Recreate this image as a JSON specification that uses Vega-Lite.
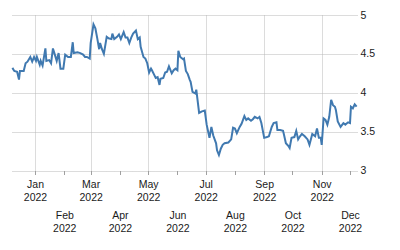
{
  "$schema": "https://vega.github.io/schema/vega-lite/v6.json",
  "autosize": "none",
  "width": 345,
  "height": 155.5,
  "padding": {"left": 12, "top": 15, "right": 43, "bottom": 79},
  "background": "white",
  "config": {
    "view": {"stroke": null},
    "axis": {
      "labelFont": "Liberation Sans",
      "labelFontSize": 10.5,
      "labelColor": "#1a1a1a",
      "domain": false,
      "gridColor": "#b8b8b8",
      "gridDash": [1, 1],
      "gridWidth": 1,
      "tickColor": "#a0a0a0",
      "tickSize": 4,
      "title": null
    }
  },
  "data": {
    "values": [
      {"date": "2021/12/08", "v": 4.32}, {"date": "2021/12/10", "v": 4.28}, {"date": "2021/12/13", "v": 4.27},
      {"date": "2021/12/15", "v": 4.17}, {"date": "2021/12/16", "v": 4.28}, {"date": "2021/12/20", "v": 4.28},
      {"date": "2021/12/22", "v": 4.38}, {"date": "2021/12/24", "v": 4.40}, {"date": "2021/12/27", "v": 4.46},
      {"date": "2021/12/29", "v": 4.40}, {"date": "2021/12/31", "v": 4.46}, {"date": "2022/01/02", "v": 4.41},
      {"date": "2022/01/03", "v": 4.46}, {"date": "2022/01/06", "v": 4.36}, {"date": "2022/01/07", "v": 4.41},
      {"date": "2022/01/09", "v": 4.35}, {"date": "2022/01/12", "v": 4.57}, {"date": "2022/01/13", "v": 4.41},
      {"date": "2022/01/16", "v": 4.42}, {"date": "2022/01/18", "v": 4.38}, {"date": "2022/01/20", "v": 4.57},
      {"date": "2022/01/22", "v": 4.49}, {"date": "2022/01/24", "v": 4.41}, {"date": "2022/01/26", "v": 4.51},
      {"date": "2022/01/28", "v": 4.31}, {"date": "2022/01/31", "v": 4.31}, {"date": "2022/02/02", "v": 4.49},
      {"date": "2022/02/05", "v": 4.46}, {"date": "2022/02/08", "v": 4.46}, {"date": "2022/02/10", "v": 4.65},
      {"date": "2022/02/11", "v": 4.51}, {"date": "2022/02/15", "v": 4.52}, {"date": "2022/02/18", "v": 4.51},
      {"date": "2022/02/21", "v": 4.49}, {"date": "2022/02/23", "v": 4.46}, {"date": "2022/02/25", "v": 4.46},
      {"date": "2022/02/28", "v": 4.44}, {"date": "2022/03/01", "v": 4.64}, {"date": "2022/03/04", "v": 4.88},
      {"date": "2022/03/06", "v": 4.83}, {"date": "2022/03/08", "v": 4.70}, {"date": "2022/03/10", "v": 4.56},
      {"date": "2022/03/11", "v": 4.64}, {"date": "2022/03/13", "v": 4.56}, {"date": "2022/03/15", "v": 4.50},
      {"date": "2022/03/18", "v": 4.72}, {"date": "2022/03/20", "v": 4.70}, {"date": "2022/03/23", "v": 4.69},
      {"date": "2022/03/24", "v": 4.76}, {"date": "2022/03/26", "v": 4.69}, {"date": "2022/03/29", "v": 4.72},
      {"date": "2022/03/31", "v": 4.75}, {"date": "2022/04/02", "v": 4.69}, {"date": "2022/04/05", "v": 4.78},
      {"date": "2022/04/07", "v": 4.71}, {"date": "2022/04/09", "v": 4.71}, {"date": "2022/04/11", "v": 4.64},
      {"date": "2022/04/13", "v": 4.71}, {"date": "2022/04/15", "v": 4.76}, {"date": "2022/04/18", "v": 4.80},
      {"date": "2022/04/20", "v": 4.69}, {"date": "2022/04/22", "v": 4.71}, {"date": "2022/04/23", "v": 4.59},
      {"date": "2022/04/26", "v": 4.46}, {"date": "2022/04/28", "v": 4.44}, {"date": "2022/04/30", "v": 4.38},
      {"date": "2022/05/02", "v": 4.26}, {"date": "2022/05/04", "v": 4.31}, {"date": "2022/05/05", "v": 4.29},
      {"date": "2022/05/07", "v": 4.24}, {"date": "2022/05/09", "v": 4.19}, {"date": "2022/05/11", "v": 4.20},
      {"date": "2022/05/13", "v": 4.10}, {"date": "2022/05/14", "v": 4.18}, {"date": "2022/05/17", "v": 4.19},
      {"date": "2022/05/19", "v": 4.26}, {"date": "2022/05/21", "v": 4.27}, {"date": "2022/05/23", "v": 4.34},
      {"date": "2022/05/26", "v": 4.25}, {"date": "2022/05/28", "v": 4.29}, {"date": "2022/05/30", "v": 4.31},
      {"date": "2022/06/01", "v": 4.29}, {"date": "2022/06/02", "v": 4.54}, {"date": "2022/06/04", "v": 4.46},
      {"date": "2022/06/07", "v": 4.43}, {"date": "2022/06/08", "v": 4.44}, {"date": "2022/06/10", "v": 4.28},
      {"date": "2022/06/12", "v": 4.24}, {"date": "2022/06/14", "v": 4.17}, {"date": "2022/06/15", "v": 4.14},
      {"date": "2022/06/17", "v": 4.01}, {"date": "2022/06/20", "v": 3.99}, {"date": "2022/06/21", "v": 4.04},
      {"date": "2022/06/24", "v": 3.74}, {"date": "2022/06/27", "v": 3.76}, {"date": "2022/06/30", "v": 3.77},
      {"date": "2022/07/02", "v": 3.59}, {"date": "2022/07/05", "v": 3.42}, {"date": "2022/07/07", "v": 3.56},
      {"date": "2022/07/09", "v": 3.45}, {"date": "2022/07/12", "v": 3.35}, {"date": "2022/07/13", "v": 3.26},
      {"date": "2022/07/15", "v": 3.20}, {"date": "2022/07/17", "v": 3.28}, {"date": "2022/07/19", "v": 3.33},
      {"date": "2022/07/21", "v": 3.35}, {"date": "2022/07/25", "v": 3.36}, {"date": "2022/07/28", "v": 3.40},
      {"date": "2022/07/30", "v": 3.55}, {"date": "2022/08/01", "v": 3.54}, {"date": "2022/08/03", "v": 3.48},
      {"date": "2022/08/06", "v": 3.56}, {"date": "2022/08/08", "v": 3.60}, {"date": "2022/08/11", "v": 3.70},
      {"date": "2022/08/13", "v": 3.65}, {"date": "2022/08/15", "v": 3.67}, {"date": "2022/08/18", "v": 3.64},
      {"date": "2022/08/20", "v": 3.66}, {"date": "2022/08/22", "v": 3.69}, {"date": "2022/08/25", "v": 3.67},
      {"date": "2022/08/27", "v": 3.69}, {"date": "2022/08/29", "v": 3.61}, {"date": "2022/09/01", "v": 3.42},
      {"date": "2022/09/04", "v": 3.43}, {"date": "2022/09/06", "v": 3.44}, {"date": "2022/09/09", "v": 3.56},
      {"date": "2022/09/11", "v": 3.61}, {"date": "2022/09/14", "v": 3.62}, {"date": "2022/09/15", "v": 3.52},
      {"date": "2022/09/18", "v": 3.52}, {"date": "2022/09/21", "v": 3.51}, {"date": "2022/09/22", "v": 3.46},
      {"date": "2022/09/24", "v": 3.35}, {"date": "2022/09/27", "v": 3.31}, {"date": "2022/09/28", "v": 3.29},
      {"date": "2022/09/30", "v": 3.42}, {"date": "2022/10/03", "v": 3.43}, {"date": "2022/10/05", "v": 3.51},
      {"date": "2022/10/07", "v": 3.40}, {"date": "2022/10/09", "v": 3.44}, {"date": "2022/10/11", "v": 3.47},
      {"date": "2022/10/14", "v": 3.44}, {"date": "2022/10/17", "v": 3.40}, {"date": "2022/10/19", "v": 3.33},
      {"date": "2022/10/22", "v": 3.47}, {"date": "2022/10/25", "v": 3.44}, {"date": "2022/10/27", "v": 3.54},
      {"date": "2022/10/29", "v": 3.42}, {"date": "2022/10/31", "v": 3.42}, {"date": "2022/11/01", "v": 3.33},
      {"date": "2022/11/03", "v": 3.67}, {"date": "2022/11/05", "v": 3.65}, {"date": "2022/11/07", "v": 3.59},
      {"date": "2022/11/09", "v": 3.69}, {"date": "2022/11/11", "v": 3.91}, {"date": "2022/11/13", "v": 3.84},
      {"date": "2022/11/15", "v": 3.82}, {"date": "2022/11/16", "v": 3.78}, {"date": "2022/11/18", "v": 3.63},
      {"date": "2022/11/21", "v": 3.56}, {"date": "2022/11/24", "v": 3.61}, {"date": "2022/11/26", "v": 3.59},
      {"date": "2022/11/29", "v": 3.62}, {"date": "2022/12/01", "v": 3.61}, {"date": "2022/12/02", "v": 3.82},
      {"date": "2022/12/04", "v": 3.80}, {"date": "2022/12/06", "v": 3.85}, {"date": "2022/12/08", "v": 3.82}
    ],
    "format": {"parse": {"date": "date"}}
  },
  "encoding": {
    "y": {
      "field": "v",
      "type": "quantitative",
      "scale": {"domain": [3, 5], "nice": false, "zero": false},
      "axis": {
        "orient": "right",
        "values": [3, 3.5, 4, 4.5, 5],
        "format": "~g",
        "ticks": false,
        "labelPadding": 3,
        "labelAlign": "left"
      }
    }
  },
  "layer": [
    {
      "mark": {"type": "line", "color": "#4079b0", "strokeWidth": 2},
      "encoding": {
        "x": {
          "field": "date",
          "type": "temporal",
          "scale": {"domain": [{"year": 2021, "month": 12, "date": 7, "hours": 14}, {"year": 2022, "month": 12, "date": 8, "hours": 10}]},
          "axis": {
            "orient": "bottom",
            "values": [
              {"year": 2022, "month": 1, "date": 1}, {"year": 2022, "month": 3, "date": 1},
              {"year": 2022, "month": 5, "date": 1}, {"year": 2022, "month": 7, "date": 1},
              {"year": 2022, "month": 9, "date": 1}, {"year": 2022, "month": 11, "date": 1}
            ],
            "labelExpr": "[timeFormat(datum.value, '%b'), timeFormat(datum.value, '%Y')]",
            "labelPadding": 4.5,
            "labelLineHeight": 13,
            "labelFlush": false,
            "labelOverlap": false
          }
        }
      }
    },
    {
      "mark": {"type": "line", "strokeOpacity": 0},
      "encoding": {
        "x": {
          "field": "date",
          "type": "temporal",
          "axis": {
            "orient": "bottom",
            "values": [
              {"year": 2022, "month": 2, "date": 1}, {"year": 2022, "month": 4, "date": 1},
              {"year": 2022, "month": 6, "date": 1}, {"year": 2022, "month": 8, "date": 1},
              {"year": 2022, "month": 10, "date": 1}, {"year": 2022, "month": 12, "date": 1}
            ],
            "labelExpr": "[timeFormat(datum.value, '%b'), timeFormat(datum.value, '%Y')]",
            "labelPadding": 35.5,
            "labelLineHeight": 13,
            "labelFlush": false,
            "labelOverlap": false
          }
        }
      }
    }
  ],
  "resolve": {"axis": {"x": "independent"}}
}
